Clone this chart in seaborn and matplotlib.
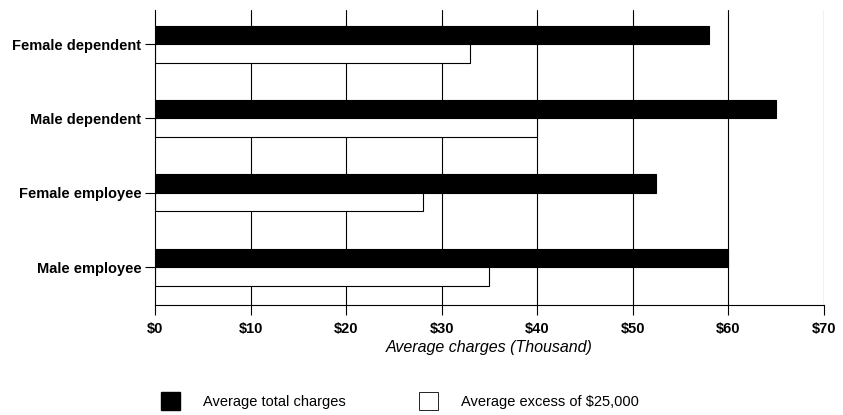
import pandas as pd
import matplotlib
matplotlib.use("Agg")
import matplotlib.pyplot as plt
import seaborn as sns
from matplotlib.patches import Patch

# values (thousand dollars)
groups = ["Female dependent", "Male dependent", "Female employee", "Male employee"]
total_charges = [58, 65, 52.5, 60]
excess_charges = [33, 40, 28, 35]
series_names = ["Average total charges", "Average excess of $25,000"]
x_ticks = [0, 10, 20, 30, 40, 50, 60, 70]
x_tick_labels = ["$0", "$10", "$20", "$30", "$40", "$50", "$60", "$70"]

df = pd.DataFrame({
    "group": groups * 2,
    "value": total_charges + excess_charges,
    "series": [series_names[0]] * len(groups) + [series_names[1]] * len(groups),
})

sns.set_style("white")
plt.rcParams["font.family"] = ["Liberation Sans", "DejaVu Sans"]
plt.rcParams["text.color"] = "black"
plt.rcParams["axes.labelcolor"] = "black"
plt.rcParams["xtick.color"] = "black"
plt.rcParams["ytick.color"] = "black"

fig = plt.figure(figsize=(8.43, 4.15), dpi=100)
ax = fig.add_axes([0.184, 0.265, 0.793, 0.711])

sns.barplot(data=df, x="value", y="group", hue="series", order=groups,
            hue_order=series_names, palette=["black", "white"],
            edgecolor="black", linewidth=0.8, width=0.5, legend=False, ax=ax)

ax.set_xlim(0, 70)
ax.set_ylim(3.51, -0.46)
ax.set_xticks(x_ticks)
ax.set_xticklabels(x_tick_labels, fontweight="bold", fontsize=10.5)
ax.set_yticklabels(groups, fontweight="bold", fontsize=10.5)
for x in x_ticks[1:]:
    ax.axvline(x, color="black", lw=0.8, zorder=0)

ax.set_xlabel("Average charges (Thousand)", fontstyle="italic", fontsize=11.5, labelpad=3)
ax.set_ylabel("")

for side in ["top", "right"]:
    ax.spines[side].set_visible(False)
for side in ["left", "bottom"]:
    ax.spines[side].set_color("black")
    ax.spines[side].set_linewidth(0.8)
ax.tick_params(axis="both", bottom=True, left=True, direction="out",
               length=7, width=0.8, color="black")
ax.tick_params(axis="x", pad=5)
ax.tick_params(axis="y", pad=3)

handles = [Patch(facecolor="black", edgecolor="black"),
           Patch(facecolor="white", edgecolor="black", linewidth=0.6)]
fig.legend(handles, series_names, loc="lower left", bbox_to_anchor=(0.175, -0.02),
           ncol=2, frameon=False, fontsize=10.5, handlelength=1.3, handleheight=1.5,
           handletextpad=1.6, columnspacing=5.0)

fig.savefig("out.png", dpi=100)
